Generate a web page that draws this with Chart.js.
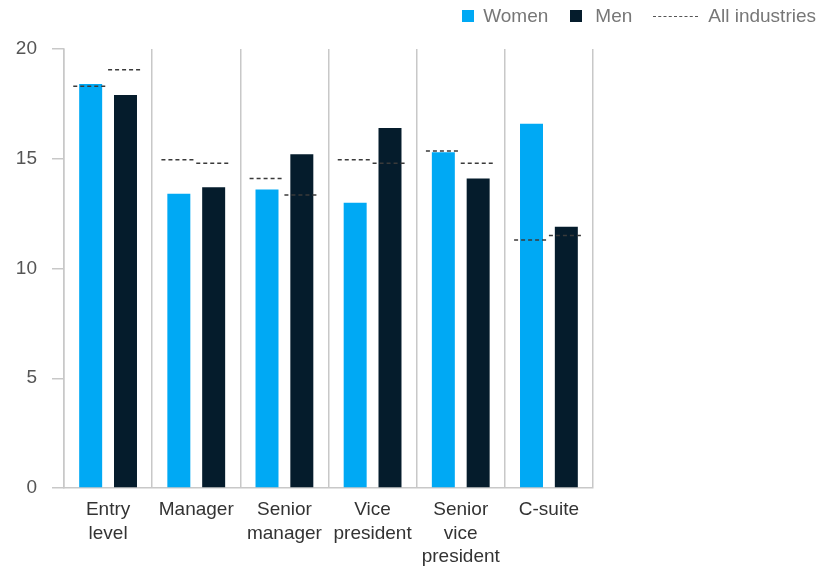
<!DOCTYPE html>
<html>
<head>
<meta charset="utf-8">
<script src="https://cdn.jsdelivr.net/npm/chart.js@4.4.1/dist/chart.umd.min.js"></script>
<style>
  html, body { margin: 0; padding: 0; background: #fff; }
  #wrap { position: relative; width: 828px; height: 568px; }
  #legend {
    position: absolute; top: 5px; right: 12px;
    display: flex; align-items: center;
    font: 19px "Liberation Sans", Arial, sans-serif; color: #777;
  }
  .sq { width: 12px; height: 12px; display: inline-block; margin-right: 9px; }
  .dash { width: 45px; border-top: 1.5px dashed #555; display: inline-block; margin-right: 10px; }
</style>
</head>
<body>
<div id="wrap">
  <canvas id="grafico" width="828" height="568"></canvas>
  <div id="legend">
    <span class="sq" style="background:#00a9f4"></span><span style="margin-right:22px">Women</span>
    <span class="sq" style="background:#051c2c;margin-right:13px"></span><span style="margin-right:21px">Men</span>
    <span class="dash"></span><span>All industries</span>
  </div>
</div>
<script>
const categories = [["Entry", "level"], ["Manager"], ["Senior", "manager"], ["Vice", "president"], ["Senior", "vice", "president"], ["C-suite"]];
const women = [18.4, 13.4, 13.6, 13.0, 15.3, 16.6];
const men = [17.9, 13.7, 15.2, 16.4, 14.1, 11.9];
// promedio de todas las industrias, uno por barra
const allWomen = [18.3, 14.95, 14.1, 14.95, 15.35, 11.3];
const allMen = [19.05, 14.8, 13.35, 14.8, 14.8, 11.5];
const yTicks = [0, 5, 10, 15, 20];

const CAT_PCT = 0.79;
const gris = "#c8c8c8";

const allIndustries = {
  id: "allIndustries",
  afterDatasetsDraw(chart) {
    const { ctx, scales: { x, y } } = chart;
    const slot = (x.width / categories.length) * CAT_PCT / 2;
    [allWomen, allMen].forEach((serie, d) => {
      chart.getDatasetMeta(d).data.forEach((bar, i) => {
        const py = y.getPixelForValue(serie[i]);
        ctx.save();
        ctx.setLineDash([4, 3]);
        ctx.strokeStyle = "#3a3a3a";
        ctx.lineWidth = 1.5;
        ctx.beginPath();
        ctx.moveTo(bar.x - slot / 2, py);
        ctx.lineTo(bar.x + slot / 2, py);
        ctx.stroke();
        ctx.restore();
      });
    });
  }
};

Chart.defaults.font.family = "'Liberation Sans', Arial, sans-serif";

new Chart(document.getElementById("grafico"), {
  type: "bar",
  data: {
    labels: categories,
    datasets: [
      { label: "Women", data: women, backgroundColor: "#00a9f4", categoryPercentage: CAT_PCT, barPercentage: 0.66 },
      { label: "Men", data: men, backgroundColor: "#051c2c", categoryPercentage: CAT_PCT, barPercentage: 0.66 }
    ]
  },
  options: {
    responsive: false,
    animation: false,
    layout: { padding: { top: 49, right: 235, left: 0, bottom: 0 } },
    plugins: { legend: { display: false }, tooltip: { enabled: false } },
    scales: {
      x: {
        afterFit: s => { s.height = 80; },
        grid: { offset: true, drawTicks: false, color: gris, lineWidth: 1.5 },
        border: { color: gris, width: 1.5 },
        ticks: { color: "#333", padding: 10, font: { size: 19, lineHeight: 1.24 } }
      },
      y: {
        min: 0,
        max: 20,
        afterFit: s => { s.width = 64; },
        afterBuildTicks: s => { s.ticks = yTicks.map(v => ({ value: v })); },
        grid: { drawOnChartArea: false, tickLength: 12, color: gris, lineWidth: 1.5 },
        border: { color: gris, width: 1.5 },
        ticks: { color: "#555", padding: 15, font: { size: 19 } }
      }
    }
  },
  plugins: [allIndustries]
});
</script>
</body>
</html>
